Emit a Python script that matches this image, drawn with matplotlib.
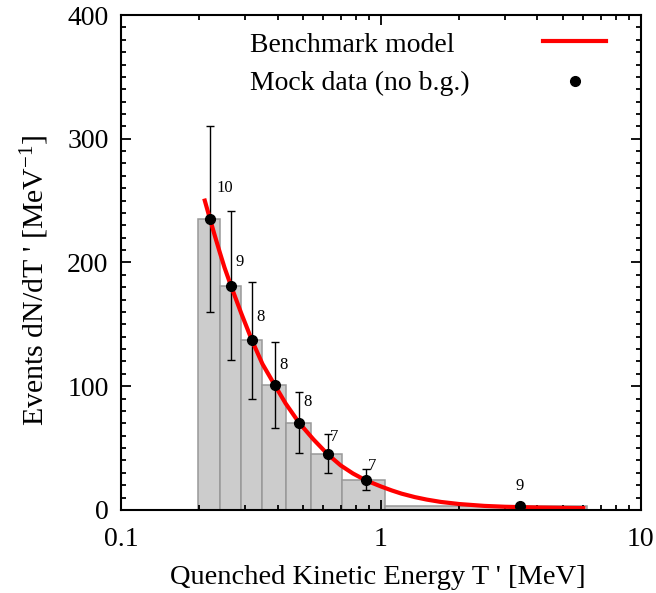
import numpy as np
import matplotlib
matplotlib.use("Agg")
import matplotlib.pyplot as plt
from matplotlib.ticker import FixedLocator, NullFormatter, MultipleLocator

plt.rcParams['font.family'] = ['Liberation Serif', 'DejaVu Serif']
plt.rcParams['mathtext.fontset'] = 'custom'
plt.rcParams['mathtext.rm'] = 'Liberation Serif'
plt.rcParams['mathtext.it'] = 'Liberation Serif:italic'

# histogram bins of the mock data (MeV) and dN/dT' per bin
bin_edges = [0.198, 0.240, 0.289, 0.349, 0.431, 0.538, 0.710, 1.036, 6.2]
bar_heights = [235, 181, 137, 101, 70.5, 45, 24.5, 3]

# mock data points with error bars and event counts
point_T = [0.220, 0.265, 0.319, 0.390, 0.484, 0.624, 0.873, 3.42]
point_y = [235, 181, 137, 101, 70.5, 45, 24.5, 3]
err_hi = [310, 242, 184, 136, 95, 61, 33, 3]
err_lo = [160, 121, 90, 66, 46, 30, 16, 3]
counts = ['10', '9', '8', '8', '8', '7', '7', '9']
label_offsets = [(6, 23), (4, 16), (4, 15), (5, 12), (4, 13), (2, 9), (2, 6), (-4, 12)]

# benchmark model curve
model_T = [0.21, 0.22, 0.23, 0.24, 0.25, 0.265, 0.29, 0.319, 0.35, 0.39, 0.43, 0.484,
           0.55, 0.624, 0.70, 0.78, 0.873, 1.0, 1.1, 1.2, 1.35, 1.5, 1.7, 2.0,
           2.5, 3.0, 4.0, 5.0, 6.0]
model_y = [250, 235, 221, 208, 196, 181, 159, 137, 118, 101, 86, 70.5,
           57, 45, 36, 29.5, 24, 19, 15.8, 13.2, 10.4, 8.4, 6.5, 4.8,
           3.3, 2.6, 2.0, 1.7, 1.5]

fig = plt.figure(figsize=(6.56, 5.93), dpi=100)
ax = fig.add_axes([0.1845, 0.14, 0.7925, 0.8347])

edges = np.array(bin_edges)
ax.bar(edges[:-1], bar_heights, width=np.diff(edges), align='edge',
       color='#cccccc', edgecolor='#999999', linewidth=1.1, zorder=1)

y = np.array(point_y)
yerr = [y - np.array(err_lo), np.array(err_hi) - y]
ax.errorbar(point_T, point_y, yerr=yerr, fmt='none', ecolor='black',
            elinewidth=1.0, capsize=3, capthick=1.0, zorder=2)

ax.plot(model_T, model_y, color='#ff0000', linewidth=3, zorder=3,
        solid_joinstyle='round')
ax.plot(point_T, point_y, 'o', color='black', markersize=7, zorder=4)

for t, v, c, off in zip(point_T, point_y, counts, label_offsets):
    ax.annotate(c, (t, v), xytext=off, textcoords='offset pixels',
                ha='left', va='bottom', fontsize=12, zorder=5)

# legend drawn by hand: text column left, keys column right
ax.text(0.248, 0.926, 'Benchmark model', transform=ax.transAxes,
        fontsize=20, ha='left', va='baseline')
ax.text(0.248, 0.848, 'Mock data (no b.g.)', transform=ax.transAxes,
        fontsize=20, ha='left', va='baseline')
ax.plot([0.8115, 0.9327], [0.947, 0.947], color='#ff0000', linewidth=3,
        transform=ax.transAxes)
ax.plot([0.873], [0.867], 'o', color='black', markersize=7,
        transform=ax.transAxes)

ax.set_xscale('log')
ax.set_xlim(0.1, 10)
ax.set_ylim(0, 400)
ax.xaxis.set_major_locator(FixedLocator([0.1, 1, 10]))
ax.xaxis.set_minor_locator(FixedLocator([m * d for d in (0.1, 1) for m in range(2, 10)]))
ax.xaxis.set_minor_formatter(NullFormatter())
ax.set_xticklabels(['0.1', '1', '10'])
ax.yaxis.set_major_locator(MultipleLocator(100))
ax.yaxis.set_minor_locator(MultipleLocator(10))

ax.tick_params(which='both', direction='in', top=True, right=True, width=1.3)
ax.tick_params(which='major', length=7, labelsize=20)
ax.tick_params(axis='y', which='major', pad=9)
ax.tick_params(axis='x', which='major', pad=12)
ax.tick_params(which='minor', length=3.5)
for s in ax.spines.values():
    s.set_linewidth(1.5)
    s.set_zorder(6)

ax.set_xlabel("Quenched Kinetic Energy T ' [MeV]", fontsize=20.5)
ax.set_ylabel("Events dN/dT ' [MeV$^{-1}$]", fontsize=21.5)
ax.xaxis.set_label_coords(0.493, -0.112)
ax.yaxis.set_label_coords(-0.135, 0.465)

fig.savefig('out.png', dpi=100)
